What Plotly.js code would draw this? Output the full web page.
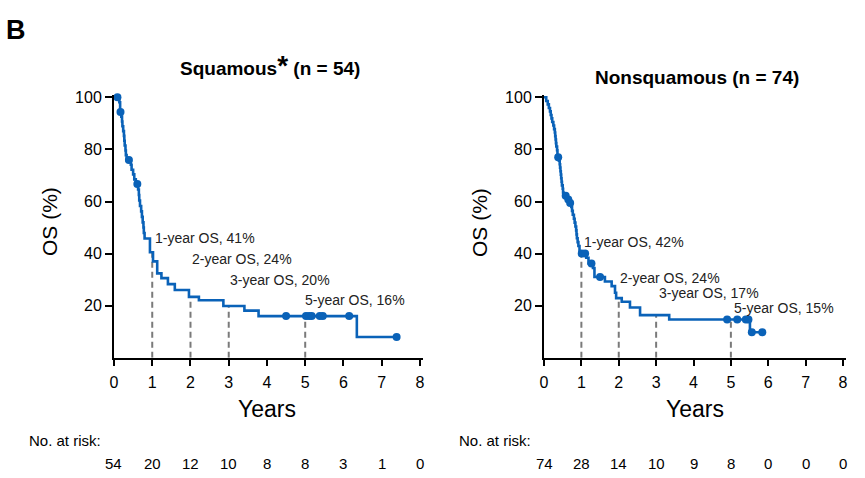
<!DOCTYPE html>
<html>
<head>
<meta charset="utf-8">
<script src="https://cdn.plot.ly/plotly-3.0.1.min.js"></script>
<style>
  html, body { margin: 0; padding: 0; background: #ffffff; }
  #chart { width: 865px; height: 478px; }
</style>
</head>
<body>
<div id="chart"></div>
<script>
// ---------------- DATA ----------------
// Squamous (n = 54): Kaplan-Meier step curve, times in years, OS in %
const sqTimes = [0, 0.14, 0.16, 0.19, 0.21, 0.22, 0.24, 0.26, 0.27, 0.28, 0.30, 0.31, 0.33, 0.44, 0.46, 0.50, 0.53, 0.57, 0.63, 0.65, 0.66, 0.68, 0.71, 0.73, 0.75, 0.77, 0.78, 0.80, 0.94, 1.02, 1.13, 1.24, 1.41, 1.59, 1.96, 2.22, 2.86, 3.41, 3.78, 6.35, 7.39];
const sqSurv  = [100, 98.1, 94.4, 92.6, 90.7, 88.9, 87.0, 85.2, 83.3, 81.5, 79.6, 77.8, 75.9, 74.1, 72.2, 70.4, 68.5, 66.7, 64.6, 62.5, 60.4, 58.3, 56.2, 54.1, 52.0, 50.0, 47.9, 45.8, 40.5, 37.0, 32.4, 30.6, 28.3, 26.0, 23.4, 22.1, 19.9, 18.1, 16.0, 8.0, 8.0];
const sqCensorTimes = [0.09, 0.17, 0.39, 0.61, 4.50, 5.02, 5.10, 5.17, 5.38, 5.46, 6.15, 7.39];

// Nonsquamous (n = 74)
const nsqTimes = [0, 0.06, 0.10, 0.13, 0.16, 0.18, 0.20, 0.22, 0.25, 0.27, 0.29, 0.30, 0.31, 0.32, 0.33, 0.35, 0.36, 0.40, 0.42, 0.43, 0.44, 0.45, 0.46, 0.47, 0.48, 0.50, 0.51, 0.52, 0.62, 0.68, 0.73, 0.75, 0.77, 0.80, 0.82, 0.84, 0.86, 0.87, 0.88, 0.90, 0.92, 0.95, 1.13, 1.19, 1.31, 1.35, 1.63, 1.81, 1.90, 1.93, 2.08, 2.30, 2.57, 3.35, 5.51, 5.84];
const nsqSurv  = [100, 98.6, 97.3, 95.9, 94.6, 93.2, 91.9, 90.5, 89.2, 87.8, 86.5, 85.1, 83.8, 82.4, 81.1, 79.7, 77.0, 75.7, 74.3, 73.0, 71.6, 70.3, 68.9, 67.6, 66.2, 64.9, 63.5, 62.2, 60.8, 59.4, 57.9, 56.4, 54.9, 53.4, 51.9, 50.4, 48.9, 47.4, 45.9, 44.4, 42.9, 40.0, 38.4, 36.2, 34.5, 31.0, 29.3, 27.5, 25.0, 22.9, 21.5, 19.3, 16.4, 14.7, 9.8, 9.8];
const nsqCensorTimes = [0.38, 0.58, 0.65, 0.70, 1.01, 1.10, 1.27, 1.50, 4.90, 5.17, 5.40, 5.47, 5.56, 5.84];

// Landmark OS estimates
const landmarkYears = [1, 2, 3, 5];
const sqLandmarkOS  = [41, 24, 20, 16];
const nsqLandmarkOS = [42, 24, 17, 15];

// Number at risk
const riskYears = [0, 1, 2, 3, 4, 5, 6, 7, 8];
const sqAtRisk  = [54, 20, 12, 10, 8, 8, 3, 1, 0];
const nsqAtRisk = [74, 28, 14, 10, 9, 8, 0, 0, 0];

// Axis ticks
const xTicks = [0, 1, 2, 3, 4, 5, 6, 7, 8];
const yTicks = [20, 40, 60, 80, 100];

// ---------------- helpers ----------------
function survAt(times, surv, t) {
  let v = surv[0];
  for (let i = 0; i < times.length; i++) { if (times[i] <= t) v = surv[i]; }
  return v;
}

const W = 865, H = 478;
const BLUE = '#0a62b8';
const FONT = 'Liberation Sans, Arial, Helvetica, sans-serif';

// layout positions (pixels)
const panels = [
  { name: 'Squamous', xa: 'x', ya: 'y', x0: 114, x1: 423, times: sqTimes, surv: sqSurv, cens: sqCensorTimes,
    os: sqLandmarkOS, risk: sqAtRisk, labelY: [45.9, 37.8, 30.0, 22.1], labelX: [1.03, 2.0, 2.99, 4.95],
    title: 'Squamous<span style="font-size:28px">*</span> (n = 54)', titleX: 270, titleY: 66,
    yTitleX: 50, yearsX: 267, riskLabelX: 27 },
  { name: 'Nonsquamous', xa: 'x2', ya: 'y2', x0: 544, x1: 846, times: nsqTimes, surv: nsqSurv, cens: nsqCensorTimes,
    os: nsqLandmarkOS, risk: nsqAtRisk, labelY: [44.3, 30.6, 24.7, 19.3], labelX: [1.01, 1.99, 3.01, 5.02],
    title: 'Nonsquamous (n = 74)', titleX: 697, titleY: 77,
    yTitleX: 480, yearsX: 695, riskLabelX: 457 }
];
const yBottomPx = 357.8, yTopPx = 94.7;

const traces = [];
const annotations = [];

annotations.push({ xref: 'paper', yref: 'paper', x: 4 / W, y: 1 - 30 / H, xanchor: 'left', yanchor: 'middle',
  text: '<b>B</b>', showarrow: false, font: { family: FONT, size: 27, color: '#000' } });

panels.forEach(p => {
  // dashed landmark lines (from 0 up to the curve)
  landmarkYears.forEach((yr, i) => {
    traces.push({ type: 'scatter', mode: 'lines', xaxis: p.xa, yaxis: p.ya,
      x: [yr, yr], y: [0, survAt(p.times, p.surv, yr)],
      line: { color: '#7a7a7a', width: 2, dash: '6px,4px' }, hoverinfo: 'skip', showlegend: false, cliponaxis: false });
  });
  // KM curve
  traces.push({ type: 'scatter', mode: 'lines', xaxis: p.xa, yaxis: p.ya,
    x: p.times, y: p.surv, line: { color: BLUE, width: 2.6, shape: 'hv' }, showlegend: false, cliponaxis: false });
  // censor marks
  traces.push({ type: 'scatter', mode: 'markers', xaxis: p.xa, yaxis: p.ya,
    x: p.cens, y: p.cens.map(t => survAt(p.times, p.surv, t)),
    marker: { color: BLUE, size: 8 }, showlegend: false, cliponaxis: false });

  // landmark labels
  landmarkYears.forEach((yr, i) => {
    annotations.push({ xref: p.xa, yref: p.ya, x: p.labelX[i], y: p.labelY[i], xanchor: 'left', yanchor: 'middle',
      text: yr + '-year OS, ' + p.os[i] + '%', showarrow: false, font: { family: FONT, size: 14, color: '#222' } });
  });
  // title
  annotations.push({ xref: 'paper', yref: 'paper', x: p.titleX / W, y: 1 - p.titleY / H, xanchor: 'center', yanchor: 'middle',
    text: '<b>' + p.title + '</b>', showarrow: false, font: { family: FONT, size: 19, color: '#000' } });
  // y title
  annotations.push({ xref: 'paper', yref: 'paper', x: p.yTitleX / W, y: 1 - 222 / H, xanchor: 'center', yanchor: 'middle',
    text: 'OS (%)', textangle: -90, showarrow: false, font: { family: FONT, size: 21, color: '#000' } });
  // x title
  annotations.push({ xref: 'paper', yref: 'paper', x: p.yearsX / W, y: 1 - 409 / H, xanchor: 'center', yanchor: 'middle',
    text: 'Years', showarrow: false, font: { family: FONT, size: 23, color: '#000' } });
  // No. at risk
  annotations.push({ xref: 'paper', yref: 'paper', x: p.riskLabelX / W, y: 1 - 440 / H, xanchor: 'left', yanchor: 'middle',
    text: 'No. at risk:', showarrow: false, font: { family: FONT, size: 15, color: '#000' } });
  riskYears.forEach((yr, i) => {
    annotations.push({ xref: p.xa, yref: 'paper', x: yr, y: 1 - 463 / H, xanchor: 'center', yanchor: 'middle',
      text: String(p.risk[i]), showarrow: false, font: { family: FONT, size: 15, color: '#000' } });
  });
});

function xAxis(p, anchor) {
  return { domain: [p.x0 / W, p.x1 / W], range: [0, 8.08], anchor: anchor, tickvals: xTicks, ticktext: xTicks.map(String),
    ticks: 'outside', ticklen: 6, tickwidth: 2, tickcolor: '#000', showline: true, linewidth: 2, linecolor: '#000',
    ticklabelstandoff: 3,
    showgrid: false, zeroline: false, fixedrange: true, tickfont: { family: FONT, size: 16, color: '#000' } };
}
function yAxis(p, anchor) {
  return { domain: [(H - yBottomPx) / H, (H - yTopPx) / H], range: [0, 101], anchor: anchor, tickvals: yTicks,
    ticktext: yTicks.map(String), ticks: 'outside', ticklen: 7, tickwidth: 2, tickcolor: '#000', showline: true,
    linewidth: 2, linecolor: '#000', showgrid: false, zeroline: false, fixedrange: true,
    tickfont: { family: FONT, size: 16, color: '#000' } };
}

const layout = {
  width: W, height: H, margin: { l: 0, r: 0, t: 0, b: 0 },
  paper_bgcolor: '#fff', plot_bgcolor: '#fff', showlegend: false,
  xaxis: xAxis(panels[0], 'y'), yaxis: yAxis(panels[0], 'x'),
  xaxis2: xAxis(panels[1], 'y2'), yaxis2: yAxis(panels[1], 'x2'),
  annotations: annotations
};

Plotly.newPlot('chart', traces, layout, { staticPlot: true, displayModeBar: false });
</script>
</body>
</html>
